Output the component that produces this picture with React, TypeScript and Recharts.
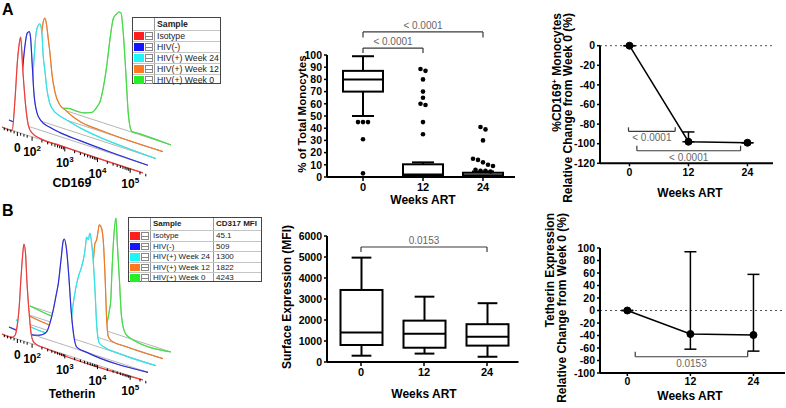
import React from "react";
import {
  ComposedChart,
  Area,
  Bar,
  Line,
  Scatter,
  XAxis,
  YAxis,
  ReferenceLine,
  ErrorBar,
} from "recharts";

const FONT = "Arial, 'Liberation Sans', Helvetica, sans-serif";

// samples, front layer first
const sampleNames = ["Isotype", "HIV(-)", "HIV(+) Week 24", "HIV(+) Week 12", "HIV(+) Week 0"];
const lineColors = ["#f23a3a", "#2c2cdc", "#2ee6ea", "#f27a22", "#3fe03f"];
const swatchColors = ["#ff1e1e", "#1414ff", "#1ef5f5", "#ff7a1e", "#28ee28"];
const cd317Mfi = ["45.1", "509", "1300", "1822", "4243"];

// histogram traces: [axis position in decades, height above the layer baseline]
const cd169Isotype = [[1.08, 0], [1.39, 0], [1.48, 33], [1.55, 70], [1.6, 87], [1.65, 96], [1.72, 62], [1.8, 30], [1.88, 11], [1.99, 4], [2.24, 1], [2.85, 0.5], [5.39, 0]];
const cd169HivNeg = [[1.08, 0], [1.26, 0], [1.42, 18], [1.49, 52], [1.57, 80], [1.64, 93], [1.7, 95], [1.74, 89], [1.79, 63], [1.84, 36], [1.93, 17], [2.05, 10], [2.33, 6], [2.64, 4], [3.25, 2.5], [4.17, 1], [5.33, 0]];
const cd169Week24 = [[1.08, 0], [1.45, 2], [1.54, 15], [1.64, 64], [1.69, 85], [1.76, 95], [1.81, 97], [1.87, 89], [1.91, 67], [1.97, 50], [2.02, 35], [2.1, 22], [2.22, 15], [2.37, 12], [2.63, 9.5], [3.04, 6], [3.65, 3], [4.57, 1], [5.36, 0]];
const cd169Week12 = [[1.08, 0], [1.39, 2], [1.51, 20], [1.6, 60], [1.68, 87], [1.75, 95], [1.8, 89], [1.85, 76], [1.91, 60], [1.96, 43], [2.06, 24], [2.21, 13], [2.36, 10], [2.58, 6], [2.82, 3], [3.43, 1], [5.36, 0]];
const cd169Week0 = [[1.08, 0], [1.84, 0], [2.06, 1], [2.24, 3], [2.55, 3], [2.76, 4], [2.98, 7], [3.13, 14], [3.22, 20], [3.32, 35], [3.43, 59], [3.53, 87], [3.63, 108], [3.7, 112], [3.8, 116], [3.86, 116], [3.93, 97], [4.01, 58], [4.09, 16], [4.19, 1], [4.44, 1], [5.39, 0]];

const tethIsotype = [[1.08, 0], [1.39, 0], [1.48, 3], [1.54, 12], [1.6, 30], [1.66, 62], [1.71, 85], [1.75, 97], [1.8, 88], [1.84, 62], [1.91, 30], [1.97, 10], [2.03, 3], [2.12, 1], [2.39, 0], [5.39, 0]];
const tethHivNeg = [[1.08, 0], [1.85, 0], [1.95, 1], [2.09, 3], [2.24, 8], [2.33, 17], [2.43, 31], [2.52, 47], [2.59, 60], [2.67, 84], [2.74, 104], [2.77, 106], [2.84, 96], [2.91, 70], [2.98, 37], [3.05, 15], [3.15, 2], [3.46, 0], [5.33, 0]];
const tethWeek24 = [[1.08, 0], [2.67, 0], [2.73, 1], [2.78, 21], [2.88, 46], [2.99, 64], [3.09, 75], [3.19, 92], [3.24, 106], [3.29, 104], [3.34, 111], [3.39, 102], [3.44, 85], [3.5, 53], [3.55, 20], [3.63, 4], [3.75, 2], [4.26, 0], [5.36, 0]];
const tethWeek12 = [[1.08, 0], [2.82, 0], [3.01, 10], [3.1, 45], [3.18, 68], [3.23, 76], [3.28, 93], [3.33, 97], [3.38, 107], [3.41, 113], [3.46, 112], [3.51, 106], [3.54, 96], [3.59, 63], [3.64, 20], [3.69, 4], [3.79, 1], [4.2, 0], [5.36, 0]];
const tethWeek0 = [[1.08, 0], [3.22, 0], [3.4, 5], [3.5, 20], [3.55, 32], [3.58, 56], [3.63, 90], [3.71, 116], [3.75, 91], [3.81, 58], [3.88, 19], [3.99, 4], [4.14, 0.5], [5.39, 0]];

const axisLabels = [
  { u: 1.55, base: "0", sup: "" },
  { u: 2, base: "10", sup: "2" },
  { u: 3, base: "10", sup: "3" },
  { u: 4, base: "10", sup: "4" },
  { u: 5, base: "10", sup: "5" },
];

// box plots
const weeks = ["0", "12", "24"];
const cd169Min = [50, 0, 0];
const cd169Q1 = [70, 1, 0.5];
const cd169Median = [80, 2, 1.5];
const cd169Q3 = [87, 10.4, 3.5];
const cd169Max = [99, 12, 4.5];
const cd169Outliers = [
  [45, 45, 45, 31, 3],
  [88.5, 87, 80, 70, 65, 60, 59, 45, 35],
  [41, 39, 30, 15, 14, 12, 10, 9, 6, 5, 5, 4.5],
];
const tethMin = [300, 400, 250];
const tethQ1 = [810, 680, 780];
const tethMedian = [1410, 1340, 1200];
const tethQ3 = [3430, 1970, 1800];
const tethMax = [4970, 3110, 2800];

// relative change from week 0
const weekNum = [0, 12, 24];
const cd169Change = [0, -98, -99];
const cd169ErrUp = [0, 10, 0];
const cd169ErrDown = [0, 0, 0];
const tethChange = [0, -37.6, -39.2];
const tethErrUp = [0, 131.6, 97];
const tethErrDown = [0, 24.3, 25.8];

const pCd169 = ["< 0.0001", "< 0.0001"];
const pTeth = ["0.0153"];

// pseudo-3D offset layout of the histogram overlay
const H_X0 = 2;
const H_Y0 = 127;
const H_DECADE = 32.7;
const H_SLOPE = 0.326;
const H_U0 = 1.08;
const H_STEP = 7;

function project(u: number, k: number) {
  const along = (u - H_U0) * H_DECADE;
  return { x: H_X0 + H_STEP * k + along, base: H_Y0 - H_STEP * k + along * H_SLOPE };
}

const majorTicks = [1.55, 2, 3, 4, 5];
const minorTicks: number[] = [1.15, 1.25, 1.35, 1.45, 1.65, 1.75, 1.85];
[2, 3, 4].forEach((d) => {
  for (let m = 2; m <= 9; m++) minorTicks.push(d + Math.log10(m));
});
minorTicks.push(5 + Math.log10(2), 5 + Math.log10(3));

const tickData = [
  ...majorTicks.map((u) => ({ x: project(u, 0).x, y: project(u, 0).base, len: 4 })),
  ...minorTicks.map((u) => ({ x: project(u, 0).x, y: project(u, 0).base, len: 2.5 })),
];
const labelData = axisLabels.map((l) => ({ x: project(l.u, 0).x, y: project(l.u, 0).base, base: l.base, sup: l.sup }));

const TickMark = (p: any) => (
  <line x1={p.cx} y1={p.cy} x2={p.cx} y2={p.cy + p.payload.len} stroke="#000" strokeWidth={1} />
);

const TickLabel = (p: any) => (
  <text x={p.cx} y={p.cy + 19.5} textAnchor="middle" fontFamily={FONT} fontWeight="bold" fontSize={12} fill="#000">
    {p.payload.base}
    {p.payload.sup ? (
      <tspan dy={-5} fontSize={8}>
        {p.payload.sup}
      </tspan>
    ) : null}
  </text>
);

function HistPanel({ curves, top }: { curves: number[][][]; top: number }) {
  const layers = curves.map((pts, k) => ({
    k,
    data: pts.map(([u, h]) => {
      const p = project(u, k);
      return { x: p.x, band: [p.base, p.base - h], top: p.base - h };
    }),
  }));
  const backToFront = [...layers].reverse();
  return (
    <div style={{ position: "absolute", left: 0, top, width: 180, height: 200 }}>
      <ComposedChart width={180} height={200} margin={{ top: 0, right: 0, bottom: 0, left: 0 }}>
        <XAxis type="number" dataKey="x" domain={[0, 180]} hide allowDataOverflow />
        <YAxis type="number" dataKey="y" domain={[0, 200]} reversed hide allowDataOverflow />
        {backToFront.flatMap((l) => [
          <Area
            key={"fill" + l.k}
            data={l.data}
            dataKey="band"
            type="monotone"
            fill="#ffffff"
            fillOpacity={1}
            stroke="#b4b4b4"
            strokeWidth={1}
            dot={false}
            activeDot={false}
            isAnimationActive={false}
          />,
          <Area
            key={"line" + l.k}
            data={l.data}
            dataKey="top"
            type="monotone"
            fill="none"
            stroke={lineColors[l.k]}
            strokeWidth={1.2}
            dot={false}
            activeDot={false}
            isAnimationActive={false}
          />,
        ])}
        <Scatter data={tickData} shape={TickMark} isAnimationActive={false} />
        <Scatter data={labelData} shape={TickLabel} isAnimationActive={false} />
      </ComposedChart>
    </div>
  );
}

function SampleLegend({ left, top, width, height, mfi, fontSize, mfiLeft }: { left: number; top: number; width: number; height: number; mfi?: string[]; fontSize: number; mfiLeft?: number }) {
  const headerH = 12;
  const rowH = (height - headerH) / sampleNames.length;
  const txt = { position: "absolute" as const, top: 0, whiteSpace: "nowrap" as const };
  const ml = mfiLeft || 84;
  return (
    <div
      style={{
        position: "absolute",
        left,
        top,
        width,
        height,
        border: "1px solid #444",
        boxSizing: "border-box",
        background: "#fff",
        fontFamily: FONT,
        fontSize,
        color: "#222",
      }}
    >
      <div style={{ position: "absolute", left: 21, top: 0, bottom: 0, borderLeft: "1px solid #999" }} />
      {mfi ? <div style={{ position: "absolute", left: ml - 1, top: 0, bottom: 0, borderLeft: "1px solid #999" }} /> : null}
      <span style={{ ...txt, left: 24, lineHeight: headerH + "px", fontWeight: "bold" }}>Sample</span>
      {mfi ? <span style={{ ...txt, left: ml + 2, lineHeight: headerH + "px", fontWeight: "bold" }}>CD317 MFI</span> : null}
      {sampleNames.map((name, i) => (
        <div
          key={name}
          style={{ position: "absolute", left: 0, right: 0, top: headerH + i * rowH, height: rowH, borderTop: "1px solid #c4c4c4" }}
        >
          <div style={{ position: "absolute", left: 1, top: 1, width: 10, height: rowH - 3, background: swatchColors[i] }} />
          <div
            style={{
              position: "absolute",
              left: 12,
              top: 1,
              width: 8,
              height: rowH - 3,
              border: "1px solid #888",
              boxSizing: "border-box",
              background: "#fff",
            }}
          >
            <div style={{ position: "absolute", left: 0, right: 0, top: "45%", borderTop: "1px solid #888" }} />
          </div>
          <span style={{ ...txt, left: 24, lineHeight: rowH + "px" }}>{name}</span>
          {mfi ? <span style={{ ...txt, left: ml + 2, lineHeight: rowH + "px" }}>{mfi[i]}</span> : null}
        </div>
      ))}
    </div>
  );
}

function jitter(values: number[], thr: number, step: number) {
  const sorted = [...values].sort((a, b) => b - a);
  const out: { v: number; dx: number }[] = [];
  let i = 0;
  while (i < sorted.length) {
    let j = i;
    while (j + 1 < sorted.length && sorted[j] - sorted[j + 1] < thr) j++;
    const n = j - i + 1;
    for (let m = 0; m < n; m++) out.push({ v: sorted[i + m], dx: (m - (n - 1) / 2) * step });
    i = j + 1;
  }
  return out;
}

const cd169Boxes = weeks.map((w, i) => ({
  week: w,
  min: cd169Min[i],
  q1: cd169Q1[i],
  median: cd169Median[i],
  q3: cd169Q3[i],
  max: cd169Max[i],
  outliers: jitter(cd169Outliers[i], 2.6, 5),
}));
const tethBoxes = weeks.map((w, i) => ({
  week: w,
  min: tethMin[i],
  q1: tethQ1[i],
  median: tethMedian[i],
  q3: tethQ3[i],
  max: tethMax[i],
  outliers: [] as { v: number; dx: number }[],
}));

function BoxShape(props: any) {
  const { x, y, width, height, payload, capRatio } = props;
  const top = Math.min(y, y + height);
  const h = Math.abs(height);
  const k = h / (payload.q3 - payload.q1);
  const yv = (v: number) => top + (payload.q3 - v) * k;
  const cx = x + width / 2;
  const cap = (width * capRatio) / 2;
  return (
    <g stroke="#000" strokeWidth={2}>
      <line x1={cx} x2={cx} y1={yv(payload.q3)} y2={yv(payload.max)} />
      <line x1={cx - cap} x2={cx + cap} y1={yv(payload.max)} y2={yv(payload.max)} />
      <line x1={cx} x2={cx} y1={yv(payload.q1)} y2={yv(payload.min)} />
      <line x1={cx - cap} x2={cx + cap} y1={yv(payload.min)} y2={yv(payload.min)} />
      <rect x={x} y={top} width={width} height={h} fill="#fff" />
      <line x1={x} x2={x + width} y1={yv(payload.median)} y2={yv(payload.median)} />
      {payload.outliers.map((o: any, i: number) => (
        <circle key={i} cx={cx + o.dx} cy={yv(o.v)} r={2.3} fill="#000" stroke="none" />
      ))}
    </g>
  );
}

const tickStyle = { fontSize: 10.5, fontWeight: "bold", fill: "#000", fontFamily: FONT };
const axisLineStyle = { stroke: "#000", strokeWidth: 2 };
const tickLineStyle = { stroke: "#000", strokeWidth: 1.5 };

function bracket(id: string, x1: any, x2: any, y: number, yEnd: number, text: string, pos: "top" | "bottom") {
  const common = { stroke: "#3a3a3a", strokeWidth: 1.2, ifOverflow: "visible" as const };
  return [
    <ReferenceLine
      key={id + "h"}
      segment={[{ x: x1, y }, { x: x2, y }]}
      {...common}
      label={{ value: text, position: pos, offset: 3, fill: "#666", fontSize: 10, fontFamily: FONT }}
    />,
    <ReferenceLine key={id + "l"} segment={[{ x: x1, y }, { x: x1, y: yEnd }]} {...common} />,
    <ReferenceLine key={id + "r"} segment={[{ x: x2, y }, { x: x2, y: yEnd }]} {...common} />,
  ];
}

function BoxPanel(props: any) {
  const { rows, left, top, width, height, margin, domain, ticks, barSize, padding, capRatio, children } = props;
  return (
    <div style={{ position: "absolute", left, top, width, height }}>
      <ComposedChart width={width} height={height} data={rows} margin={margin}>
        <XAxis
          dataKey="week"
          type="category"
          padding={padding}
          axisLine={axisLineStyle}
          tickLine={tickLineStyle}
          tickSize={4}
          tick={{ ...tickStyle, fontSize: 11 }}
          height={30}
        />
        <YAxis
          type="number"
          domain={domain}
          ticks={ticks}
          interval={0}
          width={57}
          axisLine={axisLineStyle}
          tickLine={tickLineStyle}
          tickSize={3}
          tick={tickStyle}
        />
        <Bar
          dataKey={(d: any) => [d.q1, d.q3]}
          barSize={barSize}
          shape={(p: any) => <BoxShape {...p} capRatio={capRatio} />}
          isAnimationActive={false}
        />
        {children}
      </ComposedChart>
    </div>
  );
}

function ChangePanel(props: any) {
  const { rows, left, top, width, height, margin, xDomain, domain, ticks, children } = props;
  return (
    <div style={{ position: "absolute", left, top, width, height }}>
      <ComposedChart width={width} height={height} data={rows} margin={margin}>
        <XAxis
          dataKey="week"
          type="number"
          domain={xDomain}
          ticks={weekNum}
          allowDataOverflow
          axisLine={axisLineStyle}
          tickLine={tickLineStyle}
          tickSize={3}
          tick={{ ...tickStyle, fontSize: 10.5 }}
          height={30}
        />
        <YAxis
          type="number"
          domain={domain}
          ticks={ticks}
          interval={0}
          width={60}
          axisLine={axisLineStyle}
          tickLine={tickLineStyle}
          tickSize={3}
          tick={tickStyle}
        />
        <ReferenceLine y={0} stroke="#555" strokeDasharray="2 3" strokeWidth={1} />
        {children}
        <Line
          dataKey="change"
          type="linear"
          stroke="#000"
          strokeWidth={1.5}
          dot={{ r: 3.5, fill: "#000", stroke: "#000", strokeWidth: 1 }}
          activeDot={false}
          isAnimationActive={false}
        >
          <ErrorBar dataKey={(d: any) => [d.down, d.up]} width={6} stroke="#000" strokeWidth={1.5} direction="y" />
        </Line>
      </ComposedChart>
    </div>
  );
}

const cd169Rows = weekNum.map((w, i) => ({ week: w, change: cd169Change[i], up: cd169ErrUp[i], down: cd169ErrDown[i] }));
const tethRows = weekNum.map((w, i) => ({ week: w, change: tethChange[i], up: tethErrUp[i], down: tethErrDown[i] }));

const range = (from: number, to: number, step: number) => {
  const out: number[] = [];
  for (let v = from; v <= to; v += step) out.push(v);
  return out;
};

function Titles() {
  const bold = { fontFamily: FONT, fontWeight: "bold" as const, fill: "#000" };
  const rot = (x: number, y: number) => `rotate(-90 ${x} ${y})`;
  return (
    <svg width={786} height={408} style={{ position: "absolute", left: 0, top: 0, pointerEvents: "none" }}>
      <text x={2} y={15} fontSize={16} {...bold}>A</text>
      <text x={2} y={216} fontSize={16} {...bold}>B</text>
      <text x={72} y={187} fontSize={12.5} textAnchor="middle" {...bold}>CD169</text>
      <text x={72} y={397.5} fontSize={12} textAnchor="middle" {...bold}>Tetherin</text>

      <text x={306} y={114} fontSize={11.5} textAnchor="middle" transform={rot(306, 114)} {...bold}>% of Total Monocytes</text>
      <text x={291} y={297} fontSize={12} textAnchor="middle" transform={rot(291, 297)} {...bold}>Surface Expression (MFI)</text>

      <text x={423} y={204} fontSize={12} textAnchor="middle" {...bold}>Weeks ART</text>
      <text x={424} y={397.5} fontSize={12} textAnchor="middle" {...bold}>Weeks ART</text>
      <text x={690} y={197} fontSize={12} textAnchor="middle" {...bold}>Weeks ART</text>
      <text x={690} y={400} fontSize={12} textAnchor="middle" {...bold}>Weeks ART</text>

      <text x={561} y={13} fontSize={12} textAnchor="end" transform={rot(561, 13)} {...bold}>
        %CD169<tspan dy={-4} fontSize={8}>+</tspan>
        <tspan dy={4}> Monocytes</tspan>
      </text>
      <text x={572} y={13} fontSize={12} textAnchor="end" transform={rot(572, 13)} {...bold}>Relative Change from Week 0 (%)</text>
      <text x={554} y={213} fontSize={12} textAnchor="end" transform={rot(554, 213)} {...bold}>Tetherin Expression</text>
      <text x={566} y={213} fontSize={12} textAnchor="end" transform={rot(566, 213)} {...bold}>Relative Change from Week 0 (%)</text>
    </svg>
  );
}

export default function App() {
  return (
    <div
      style={{
        position: "absolute",
        left: 0,
        top: 0,
        width: 786,
        height: 408,
        background: "#fff",
        overflow: "hidden",
        fontFamily: FONT,
      }}
    >
      <HistPanel curves={[cd169Isotype, cd169HivNeg, cd169Week24, cd169Week12, cd169Week0]} top={0} />
      <HistPanel curves={[tethIsotype, tethHivNeg, tethWeek24, tethWeek12, tethWeek0]} top={207} />
      <SampleLegend left={132} top={17} width={89} height={67} fontSize={8.7} />
      <SampleLegend left={128} top={217} width={134} height={65} mfi={cd317Mfi} fontSize={8} mfiLeft={85} />

      <BoxPanel
        rows={cd169Boxes}
        left={270}
        top={0}
        width={255}
        height={215}
        margin={{ top: 55, right: 10, bottom: 8, left: 0 }}
        domain={[0, 100]}
        ticks={range(0, 100, 10)}
        barSize={40}
        padding={{ left: 6, right: 2 }}
        capRatio={0.55}
      >
        {bracket("a1", "0", "24", 118.9, 114.3, pCd169[0], "top")}
        {bracket("a2", "0", "12", 105.7, 101.6, pCd169[1], "top")}
      </BoxPanel>
      <BoxPanel
        rows={tethBoxes}
        left={270}
        top={200}
        width={255}
        height={200}
        margin={{ top: 36, right: 6.5, bottom: 8, left: 0 }}
        domain={[0, 6000]}
        ticks={range(0, 6000, 1000)}
        barSize={42}
        padding={{ left: 2.5, right: 0 }}
        capRatio={0.47}
      >
        {bracket("b1", "0", "24", 5476, 5238, pTeth[0], "top")}
      </BoxPanel>

      <ChangePanel
        rows={cd169Rows}
        left={540}
        top={0}
        width={240}
        height={200}
        margin={{ top: 45.7, right: 7, bottom: 6.7, left: 0 }}
        xDomain={[-6, 29.2]}
        domain={[-120, 0]}
        ticks={range(-120, 0, 20)}
      >
        {bracket("c1", -0.2, 9.3, -87.4, -83.3, pCd169[0], "bottom")}
        {bracket("c2", 1.5, 22.6, -107.2, -102.1, pCd169[1], "bottom")}
      </ChangePanel>
      <ChangePanel
        rows={tethRows}
        left={540}
        top={200}
        width={246}
        height={208}
        margin={{ top: 48, right: 1, bottom: 5, left: 0 }}
        xDomain={[-5.2, 30]}
        domain={[-100, 100]}
        ticks={range(-100, 100, 20)}
      >
        {bracket("d1", 1.5, 22.9, -74, -66, pTeth[0], "bottom")}
      </ChangePanel>

      <Titles />
    </div>
  );
}
